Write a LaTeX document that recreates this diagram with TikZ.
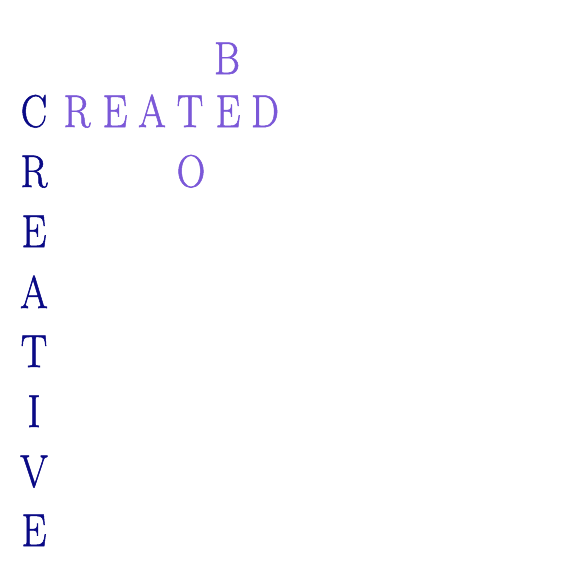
\documentclass[tikz,border=0pt]{standalone}
\usepackage{fontspec}
\newfontfamily\thicklm{Latin Modern Roman}[FakeBold=1.2]
\begin{document}
\begin{tikzpicture}[x=1pt,y=-1pt,
  letter/.style={inner sep=0pt,anchor=base,font=\thicklm\fontsize{46}{46}\selectfont},
  vert/.style={letter,text=vcol},
  horz/.style={letter,text=hcol}]
\definecolor{vcol}{HTML}{0A0A86}
\definecolor{hcol}{HTML}{7B58D8}
\newcommand{\nar}[1]{\scalebox{0.86}[1]{#1}}
\useasboundingbox[fill=white] (0,0) rectangle (576,576);
% vertical CREATIVE
\node[vert] (c1) at (34,127) {\nar{C}};
\node[vert] (c2) at (34,187) {\nar{R}};
\node[vert] (c3) at (34,247) {\nar{E}};
\node[vert] (c4) at (34,308) {\nar{A}};
\node[vert] (c5) at (34,367) {\nar{T}};
\node[vert] (c6) at (34,427) {\nar{I}};
\node[vert] (c7) at (34,487) {\nar{V}};
\node[vert] (c8) at (34,546) {\nar{E}};
% horizontal REATED
\node[horz] (h2) at (77,127) {\nar{R}};
\node[horz] (h3) at (115,127) {\nar{E}};
\node[horz] (h4) at (152,127) {\nar{A}};
\node[horz] (h5) at (190,127) {\nar{T}};
\node[horz] (h6) at (228,127) {\nar{E}};
\node[horz] (h7) at (265,127) {\nar{D}};
% B and O
\node[horz] (b) at (227,74) {\nar{B}};
\node[horz] (o) at (191,187) {\nar{O}};
\end{tikzpicture}
\end{document}
